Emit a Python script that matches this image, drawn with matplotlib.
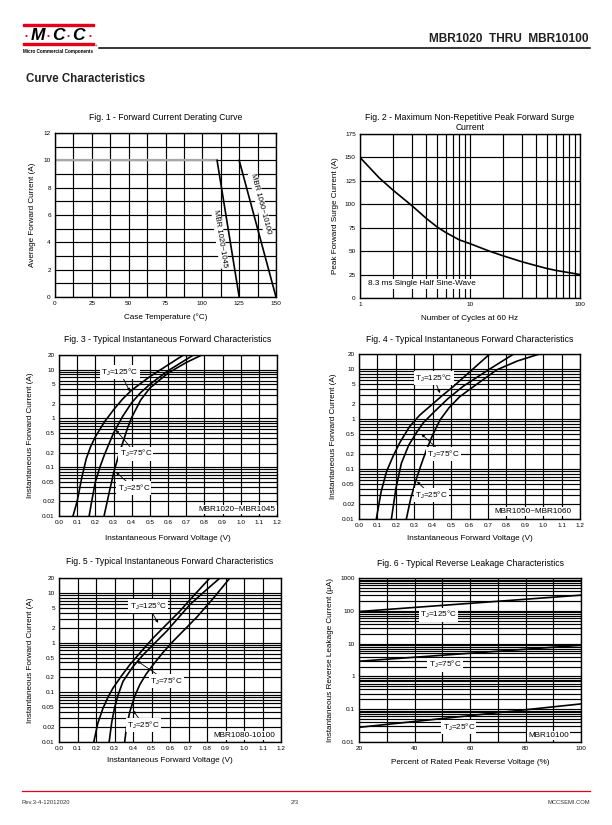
import matplotlib
matplotlib.use('Agg')
import matplotlib.pyplot as plt
from matplotlib.lines import Line2D
from matplotlib.patches import Rectangle
from matplotlib.ticker import NullFormatter, FixedLocator
import numpy as np

plt.rcParams['font.family'] = ['Liberation Sans', 'DejaVu Sans']

# ---- data ----
# Fig 1 - derating
temp_1020 = [0, 110, 125]
amps_1020 = [10, 10, 0]
temp_1060 = [125, 150]
amps_1060 = [10, 0]

# Fig 2 - surge current
cycles = [1, 1.5, 2, 3, 4, 5, 6, 8, 10, 15, 20, 30, 40, 50, 60, 80, 100]
surge = [150, 128, 115, 98, 85, 76, 70, 62, 58, 50, 45, 38.5, 34.5, 31.5, 29.5, 27, 25]

# Fig 3 - MBR1020~MBR1045
f3_v125 = [0.077, 0.10, 0.125, 0.15, 0.175, 0.20, 0.25, 0.30, 0.35, 0.40, 0.50, 0.60, 0.685]
f3_i125 = [0.01, 0.02, 0.06, 0.15, 0.27, 0.42, 0.85, 1.5, 2.5, 3.8, 7.2, 12.5, 20]
f3_v75 = [0.166, 0.18, 0.20, 0.225, 0.25, 0.30, 0.35, 0.40, 0.45, 0.50, 0.60, 0.74]
f3_i75 = [0.01, 0.02, 0.05, 0.1, 0.18, 0.5, 1.1, 2.1, 3.4, 5.0, 9.5, 20]
f3_v25 = [0.248, 0.26, 0.28, 0.30, 0.325, 0.35, 0.375, 0.40, 0.45, 0.50, 0.60, 0.70, 0.786]
f3_i25 = [0.01, 0.016, 0.035, 0.075, 0.16, 0.31, 0.6, 1.05, 2.4, 4.2, 8.5, 14, 20]

# Fig 4 - MBR1050~MBR1060
f4_v125 = [0.094, 0.12, 0.15, 0.185, 0.22, 0.275, 0.33, 0.384, 0.45, 0.51, 0.60, 0.71]
f4_i125 = [0.01, 0.035, 0.09, 0.18, 0.33, 0.71, 1.2, 1.78, 2.9, 4.4, 8.7, 20]
f4_v75 = [0.176, 0.20, 0.23, 0.27, 0.31, 0.35, 0.40, 0.48, 0.565, 0.70, 0.84]
f4_i75 = [0.01, 0.04, 0.13, 0.3, 0.52, 0.85, 1.3, 2.5, 4.5, 9.5, 20]
f4_v25 = [0.257, 0.28, 0.31, 0.34, 0.366, 0.40, 0.44, 0.49, 0.547, 0.65, 0.747, 0.86, 0.98]
f4_i25 = [0.01, 0.025, 0.061, 0.13, 0.24, 0.48, 0.96, 1.7, 2.8, 5.3, 9.6, 14.5, 20]

# Fig 5 - MBR1080-10100
f5_v125 = [0.188, 0.21, 0.238, 0.265, 0.292, 0.34, 0.383, 0.45, 0.509, 0.58, 0.653, 0.73, 0.816]
f5_i125 = [0.01, 0.024, 0.048, 0.08, 0.122, 0.22, 0.36, 0.7, 1.24, 2.3, 4.3, 9, 20]
f5_v75 = [0.271, 0.285, 0.30, 0.32, 0.346, 0.40, 0.455, 0.52, 0.58, 0.64, 0.707, 0.79, 0.87]
f5_i75 = [0.01, 0.025, 0.048, 0.09, 0.166, 0.33, 0.57, 1.0, 1.67, 3.0, 5.8, 11, 20]
f5_v25 = [0.355, 0.365, 0.383, 0.41, 0.437, 0.47, 0.509, 0.56, 0.617, 0.68, 0.743, 0.83, 0.924]
f5_i25 = [0.01, 0.02, 0.041, 0.085, 0.143, 0.23, 0.36, 0.62, 1.07, 1.85, 3.2, 7.5, 20]

# Fig 6 - reverse leakage
pct = [20, 100]
leak125 = [95, 300]
leak75 = [2.9, 8.9]
leak25 = [0.028, 0.145]

fwd_yticks = [0.01, 0.02, 0.05, 0.1, 0.2, 0.5, 1, 2, 5, 10, 20]
fwd_ylabels = ['0.01', '0.02', '0.05', '0.1', '0.2', '0.5', '1', '2', '5', '10', '20']

W, H = 612, 825
RED = '#e3001b'
TITLE_FS = 6.2
LABEL_FS = 5.9
fig = plt.figure(figsize=(6.12, 8.25), dpi=100)


def fx(x):
    return x / W


def fy(y):
    return 1 - y / H


def add_ax(x0, y0, x1, y1):
    return fig.add_axes([fx(x0), fy(y1), (x1 - x0) / W, (y1 - y0) / H])


def style(ax):
    for s in ax.spines.values():
        s.set_linewidth(1.0)
        s.set_color('k')
    ax.tick_params(which='both', length=0, labelsize=4.6, pad=3)
    ax.grid(True, which='both', color='k', lw=0.85)
    ax.set_axisbelow(True)


def log_minor(lo_exp, hi, ax):
    vals = []
    for e in range(lo_exp, 4):
        for m in range(1, 10):
            v = m * 10.0 ** e
            if v <= hi * 1.0001:
                vals.append(v)
    ax.yaxis.set_minor_locator(FixedLocator(vals))
    ax.yaxis.set_minor_formatter(NullFormatter())


def texts(ax, x0, y0, x1, y1, title, xlabel, ylabel, ty, xly, ylx):
    fig.text(fx((x0 + x1) / 2), fy(ty), title, ha='center', va='center', fontsize=TITLE_FS)
    fig.text(fx((x0 + x1) / 2), fy(xly), xlabel, ha='center', va='center', fontsize=LABEL_FS)
    fig.text(fx(ylx), fy((y0 + y1) / 2), ylabel, ha='center', va='center', fontsize=LABEL_FS, rotation=90)


box = dict(boxstyle='square,pad=0.15', fc='white', ec='none')
arr = dict(arrowstyle='-|>', lw=0.6, color='k', mutation_scale=4, shrinkA=0, shrinkB=0)

# ---- header ----
fig.add_artist(Rectangle((fx(23), fy(26)), fx(71), 2.2 / H, transform=fig.transFigure, color=RED))
fig.add_artist(Rectangle((fx(23), fy(45)), fx(71), 2.2 / H, transform=fig.transFigure, color=RED))
for xp, ch in zip([38, 58, 78], ['M', 'C', 'C']):
    fig.text(fx(xp), fy(36), ch, ha='center', va='center', fontsize=12.5,
             fontweight='bold', fontstyle='italic')
for xp in [26, 48, 68, 90]:
    fig.text(fx(xp), fy(36.5), '\u2022', ha='center', va='center', fontsize=6, color=RED)
fig.text(fx(23), fy(51), 'Micro Commercial Components', ha='left', va='center',
         fontsize=3.3, fontweight='bold')
fig.text(fx(95), fy(46), '\u00ae', ha='left', va='center', fontsize=2.5)
fig.add_artist(Line2D([fx(99), fx(590)], [fy(48.3), fy(48.3)], color='k', lw=1.1))
fig.text(fx(589), fy(38.5), 'MBR1020  THRU  MBR10100', ha='right', va='center',
         fontsize=8.6, fontweight='bold', color='#222222')
fig.text(fx(26), fy(78.5), 'Curve Characteristics', ha='left', va='center',
         fontsize=8.3, fontweight='bold', color='#222222')

# ---- footer ----
fig.add_artist(Line2D([fx(22), fx(590)], [fy(791), fy(791)], color=RED, lw=0.9))
fig.text(fx(22), fy(803), 'Rev.3-4-12012020', ha='left', va='center', fontsize=4.2, color='#333333')
fig.text(fx(295), fy(803), '2/3', ha='center', va='center', fontsize=4.2, color='#333333')
fig.text(fx(590), fy(803), 'MCCSEMI.COM', ha='right', va='center', fontsize=4.2, color='#333333')

# ---- Fig 1 ----
ax1 = add_ax(55, 133, 276, 297)
style(ax1)
ax1.plot(temp_1020[:2], amps_1020[:2], color='#a8a8a8', lw=1.6)
ax1.plot(temp_1020[1:], amps_1020[1:], color='k', lw=1.2)
ax1.plot(temp_1060, amps_1060, color='k', lw=1.2)
ax1.set_xlim(0, 150)
ax1.set_ylim(0, 12)
ax1.set_xticks(np.arange(0, 151, 25))
ax1.xaxis.set_minor_locator(FixedLocator(np.arange(0, 151, 12.5)))
ax1.set_yticks(np.arange(0, 13, 2))
ax1.yaxis.set_minor_locator(FixedLocator(np.arange(0, 13, 1)))
ax1.text(112, 4.3, 'MBR 1020~1045', rotation=-81, ha='center', va='center', fontsize=5.6, bbox=box)
ax1.text(139.6, 6.8, 'MBR 1060~10100', rotation=-75, ha='center', va='center', fontsize=5.6, bbox=box)
texts(ax1, 55, 133, 276, 297, 'Fig. 1 - Forward Current Derating Curve',
      'Case Temperature (\u00b0C)', 'Average Forward Current (A)', 118, 317, 32)

# ---- Fig 2 ----
ax2 = add_ax(360, 134, 580, 298)
style(ax2)
ax2.plot(cycles, surge, color='k', lw=1.2)
ax2.set_xscale('log')
ax2.set_xlim(1, 100)
ax2.set_ylim(0, 175)
ax2.set_xticks([1, 10, 100])
ax2.set_xticklabels(['1', '10', '100'])
ax2.xaxis.set_minor_locator(FixedLocator([2, 3, 4, 5, 6, 7, 8, 9, 20, 30, 40, 50, 60, 70, 80, 90]))
ax2.xaxis.set_minor_formatter(NullFormatter())
ax2.set_yticks(np.arange(0, 176, 25))
ax2.text(1.17, 15, '8.3 ms Single Half Sine-Wave', ha='left', va='center', fontsize=5.9, bbox=box)
fig.text(fx(470), fy(118), 'Fig. 2 - Maximum Non-Repetitive Peak Forward Surge',
         ha='center', va='center', fontsize=TITLE_FS)
fig.text(fx(470), fy(127.5), 'Current', ha='center', va='center', fontsize=TITLE_FS)
fig.text(fx(470), fy(318), 'Number of Cycles at 60 Hz', ha='center', va='center', fontsize=LABEL_FS)
fig.text(fx(335), fy(216), 'Peak Forward Surge Current (A)', ha='center', va='center',
         fontsize=LABEL_FS, rotation=90)


# ---- forward characteristic plots ----
def fwd(x0, y0, x1, y1, curves, title, tag, ann, ty, xly, ylx):
    ax = add_ax(x0, y0, x1, y1)
    style(ax)
    for v, i in curves:
        ax.plot(v, i, color='k', lw=1.2)
    ax.set_yscale('log')
    ax.set_xlim(0, 1.2)
    ax.set_ylim(0.01, 20)
    ax.set_xticks(np.round(np.arange(0, 1.21, 0.1), 1))
    ax.set_xticklabels(['%.1f' % t for t in np.arange(0, 1.21, 0.1)])
    ax.set_yticks(fwd_yticks)
    ax.set_yticklabels(fwd_ylabels)
    log_minor(-2, 20, ax)
    for label, txy, xy in ann:
        ax.annotate(label, xy=xy, xytext=txy, ha='center', va='center', fontsize=5.9,
                    bbox=box, arrowprops=arr)
    ax.text(tag[1], tag[2], tag[0], ha='center', va='center', fontsize=5.9, bbox=box)
    texts(ax, x0, y0, x1, y1, title, 'Instantaneous Forward Voltage (V)',
          'Instantaneous Forward Current (A)', ty, xly, ylx)
    return ax


T125 = 'T$_\\mathregular{J}$=125\u00b0C'
T75 = 'T$_\\mathregular{J}$=75\u00b0C'
T25 = 'T$_\\mathregular{J}$=25\u00b0C'

fwd(59, 355, 277, 516,
    [(f3_v125, f3_i125), (f3_v75, f3_i75), (f3_v25, f3_i25)],
    'Fig. 3 - Typical Instantaneous Forward Characteristics',
    ('MBR1020~MBR1045', 0.98, 0.0135),
    [(T125, (0.335, 9), (0.39, 3.6)),
     (T75, (0.423, 0.19), (0.313, 0.58)),
     (T25, (0.412, 0.037), (0.313, 0.081))],
    340, 538, 30)

fwd(359, 354, 580, 519,
    [(f4_v125, f4_i125), (f4_v75, f4_i75), (f4_v25, f4_i25)],
    'Fig. 4 - Typical Instantaneous Forward Characteristics',
    ('MBR1050~MBR1060', 0.946, 0.0142),
    [(T125, (0.406, 6.5), (0.44, 3.3)),
     (T75, (0.457, 0.2), (0.339, 0.5)),
     (T25, (0.393, 0.03), (0.315, 0.056))],
    340, 538, 334)

fwd(59, 578, 281, 742,
    [(f5_v125, f5_i125), (f5_v75, f5_i75), (f5_v25, f5_i25)],
    'Fig. 5 - Typical Instantaneous Forward Characteristics',
    ('MBR1080-10100', 1.0, 0.0135),
    [(T125, (0.482, 5.4), (0.536, 2.5)),
     (T75, (0.581, 0.17), (0.422, 0.43)),
     (T25, (0.458, 0.022), (0.40, 0.043))],
    562, 760, 30)

# ---- Fig 6 ----
ax6 = add_ax(359, 578, 581, 742)
style(ax6)
for lk in (leak125, leak75, leak25):
    ax6.plot(pct, lk, color='k', lw=1.2)
ax6.set_yscale('log')
ax6.set_xlim(20, 100)
ax6.set_ylim(0.01, 1000)
ax6.set_xticks([20, 40, 60, 80, 100])
ax6.xaxis.set_minor_locator(FixedLocator([30, 50, 70, 90]))
ax6.set_yticks([0.01, 0.1, 1, 10, 100, 1000])
ax6.set_yticklabels(['0.01', '0.1', '1', '10', '100', '1000'])
log_minor(-2, 1000, ax6)
ax6.text(48.6, 76, T125, ha='center', va='center', fontsize=5.9, bbox=box)
ax6.text(51, 2.3, T75, ha='center', va='center', fontsize=5.9, bbox=box)
ax6.text(56, 0.029, T25, ha='center', va='center', fontsize=5.9, bbox=box)
ax6.text(88.3, 0.0155, 'MBR10100', ha='center', va='center', fontsize=5.9, bbox=box)
texts(ax6, 359, 578, 581, 742, 'Fig. 6 - Typical Reverse Leakage Characteristics',
      'Percent of Rated Peak Reverse Voltage (%)',
      'Instantaneous Reverse Leakage Current (\u00b5A)', 564, 763, 331)

fig.savefig('out.png', dpi=100)
